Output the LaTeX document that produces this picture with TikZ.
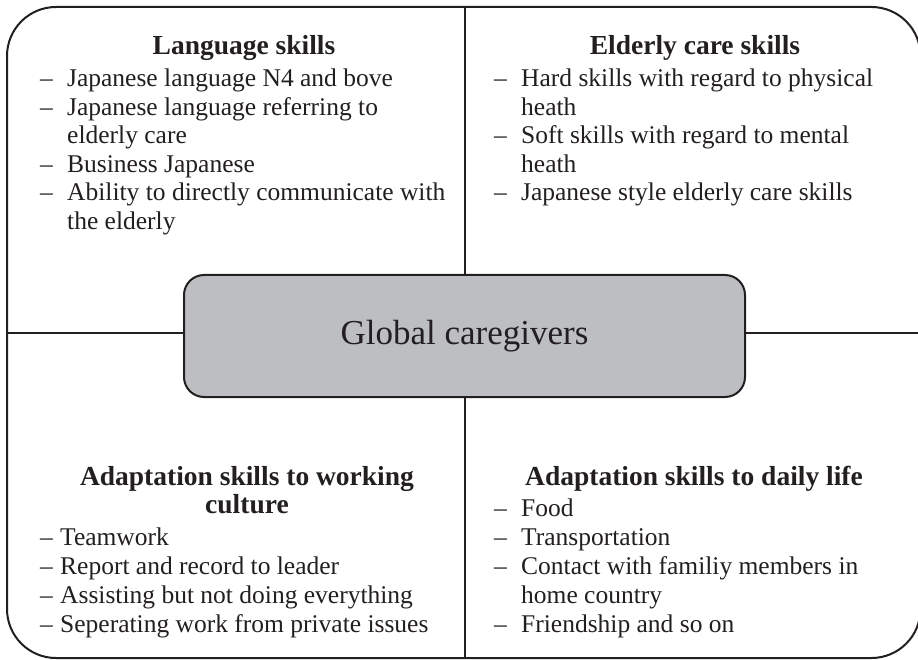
\documentclass[tikz,border=0pt]{standalone}
\usepackage{fontspec}
\setmainfont{Liberation Serif}
\definecolor{ink}{HTML}{231F20}
\definecolor{boxfill}{HTML}{BDBEC2}
\newcommand\itemdash{\makebox[27pt][l]{–}}
\newcommand\itemcont{\hspace*{27pt}}
\newcommand\tightdash{\makebox[20pt][l]{–}}
\begin{document}
\begin{tikzpicture}[x=1pt,y=-1pt,
  frame/.style={draw=ink,line width=2pt},
  divider/.style={draw=ink,line width=2pt},
  hub/.style={draw=ink,line width=2pt,fill=boxfill,rounded corners=20pt,
    minimum width=561pt,minimum height=122pt,inner sep=0pt,
    font=\fontsize{35}{40}\selectfont,text=ink},
  heading/.style={anchor=base,inner sep=0pt,font=\fontsize{27.5}{28.5}\selectfont\bfseries,text=ink},
  entry/.style={anchor=base west,inner sep=0pt,font=\fontsize{25.5}{28.5}\selectfont,text=ink}]
\useasboundingbox (0,0) rectangle (918,660);

% outer frame (right side runs past the page edge)
\draw[frame,rounded corners=49pt] (7,7) rectangle (920.5,658);

% central box
\node[hub] (hub) at (464.5,336) {Global caregivers};

% dividers from the frame to the central box
\coordinate (top) at (465,7);
\coordinate (bottom) at (465,658);
\coordinate (left) at (7,333);
\coordinate (right) at (920.5,333);
\draw[divider] (top) -- (top |- hub.north);
\draw[divider] (hub.south -| bottom) -- (bottom);
\draw[divider] (left) -- (left -| hub.west);
\draw[divider] (hub.east |- right) -- (right);

% language skills
\node[heading] (lsh) at (244,55) {Language skills};
\foreach \t [count=\i] in {
  {\itemdash Japanese language N4 and bove},
  {\itemdash Japanese language referring to},
  {\itemcont elderly care},
  {\itemdash Business Japanese},
  {\itemdash Ability to directly communicate with},
  {\itemcont the elderly}}
  \node[entry] (ls\i) at (40,{87+28.5*(\i-1)}) {\t};

% elderly care skills
\node[heading] (ech) at (695,55) {Elderly care skills};
\foreach \t [count=\i] in {
  {\itemdash Hard skills with regard to physical},
  {\itemcont heath},
  {\itemdash Soft skills with regard to mental},
  {\itemcont heath},
  {\itemdash Japanese style elderly care skills}}
  \node[entry] (ec\i) at (494,{87+28.5*(\i-1)}) {\t};

% adaptation skills to working culture
\node[heading] (wch1) at (247,485) {Adaptation skills to working};
\node[heading] (wch2) at (247,513.5) {culture};
\foreach \t [count=\i] in {
  {\tightdash Teamwork},
  {\tightdash Report and record to leader},
  {\tightdash Assisting but not doing everything},
  {\tightdash Seperating work from private issues}}
  \node[entry] (wc\i) at (40,{545+29*(\i-1)}) {\t};

% adaptation skills to daily life
\node[heading] (dlh) at (694,485) {Adaptation skills to daily life};
\foreach \t [count=\i] in {
  {\itemdash Food},
  {\itemdash Transportation},
  {\itemdash Contact with familiy members in},
  {\itemcont home country},
  {\itemdash Friendship and so on}}
  \node[entry] (dl\i) at (494,{516+29*(\i-1)}) {\t};
\end{tikzpicture}
\end{document}
